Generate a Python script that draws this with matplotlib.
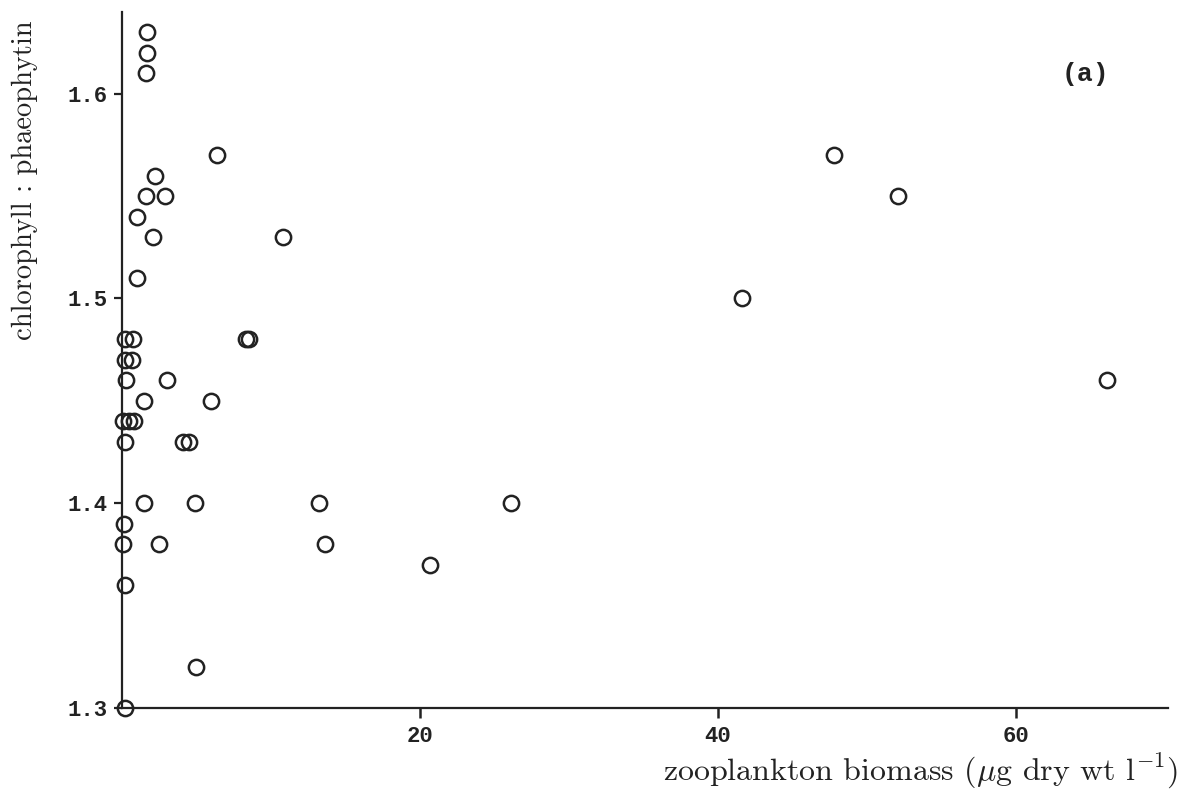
import matplotlib
matplotlib.use("Agg")
import matplotlib.pyplot as plt

# zooplankton biomass (ug dry wt / l) and chlorophyll : phaeophytin ratio
biomass = [1.65, 1.65, 1.6, 6.4, 2.2, 1.6, 2.9, 1.0, 2.1, 10.8, 1.0,
           0.2, 0.75, 8.3, 8.5, 0.2, 0.7, 0.25, 3.0, 1.5, 6.0,
           0.05, 0.5, 0.8, 0.2, 4.1, 4.5, 1.5, 4.9, 0.15, 0.1, 2.5,
           0.2, 5.0, 0.2, 13.2, 13.6, 20.7, 26.1, 41.6, 47.8, 52.1, 66.1]
ratio = [1.63, 1.62, 1.61, 1.57, 1.56, 1.55, 1.55, 1.54, 1.53, 1.53, 1.51,
         1.48, 1.48, 1.48, 1.48, 1.47, 1.47, 1.46, 1.46, 1.45, 1.45,
         1.44, 1.44, 1.44, 1.43, 1.43, 1.43, 1.40, 1.40, 1.39, 1.38, 1.38,
         1.36, 1.32, 1.30, 1.40, 1.38, 1.37, 1.40, 1.50, 1.57, 1.55, 1.46]

xticks = [20, 40, 60]
yticks = [1.3, 1.4, 1.5, 1.6]
ytick_labels = ['1.3', '1.4', '1.5', '1.6']

plt.rcParams['mathtext.fontset'] = 'cm'

fig = plt.figure(figsize=(11.89, 7.9), dpi=100)
ax = fig.add_axes([0.1026, 0.1038, 0.8794, 0.8812])

ax.plot(biomass, ratio, 'o', mfc='none', mec='#222222', ms=11, mew=1.8,
        clip_on=False, ls='none')

ax.set_xlim(0, 70.2)
ax.set_ylim(1.3, 1.64)

for s in ['top', 'right']:
    ax.spines[s].set_visible(False)
for s in ['left', 'bottom']:
    ax.spines[s].set_linewidth(1.6)
    ax.spines[s].set_color('#222222')

ax.set_xticks(xticks)
ax.set_xticklabels([str(t) for t in xticks], family='Liberation Mono',
                   fontsize=16, weight='bold')
ax.set_yticks(yticks)
ax.set_yticklabels(ytick_labels, family='Liberation Mono', fontsize=16, weight='bold')
ax.tick_params(axis='x', direction='out', length=7, width=1.8, pad=6, colors='#222222')
ax.tick_params(axis='y', direction='out', length=6, width=1.6, pad=4, colors='#222222')

fig.text(25 / 1189, 1 - 180 / 790, 'chlorophyll : phaeophytin', family='cmr10',
         fontsize=20.5, rotation=90, ha='center', va='center', color='#222222')
fig.text(1178 / 1189, 1 - 771 / 790, r'zooplankton biomass ($\mu$g dry wt l$^{-1}$)',
         family='cmr10', fontsize=23, ha='right', va='center', color='#222222')
fig.text(1085 / 1189, 1 - 74 / 790, '(a)', family='Liberation Mono', weight='bold',
         fontsize=19, ha='center', va='center', color='#222222')

fig.savefig('out.png', dpi=100)
